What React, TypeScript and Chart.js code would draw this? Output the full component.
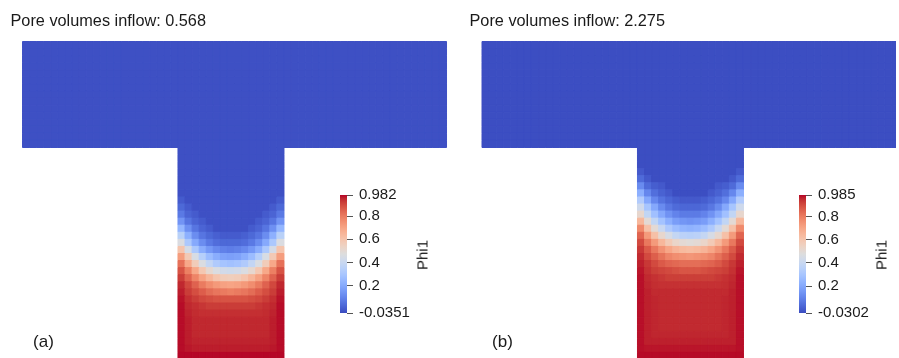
import React, { useEffect, useRef } from "react";
import { Chart, registerables } from "chart.js";
Chart.register(...registerables);

// ---------------- data ----------------
const TITLES = ["Pore volumes inflow: 0.568", "Pore volumes inflow: 2.275"];
const PANEL_LABELS = ["(a)", "(b)"];
const FIELD_NAME = "Phi1";
const RANGE_A = [-0.0351, 0.982];
const RANGE_B = [-0.0302, 0.985];
const CB_TICKS = [0.2, 0.4, 0.6, 0.8];

// T-shaped mesh: top channel of TOP_ROWS x TOP_COLS cells, stem of 15 columns starting at STEM_COL0
const TOP_ROWS = 15;
const TOP_COLS = 60;
const STEM_COL0 = 22;
const Z = -0.025; // resident fluid value (deep blue)
const TOP_PHI_A = Z;
const TOP_PHI_B = Z;

// Phi1 per stem cell (rows top->bottom, 15 columns)
const STEM_A = [
  [Z, Z, Z, Z, Z, Z, Z, Z, Z, Z, Z, Z, Z, Z, Z],
  [Z, Z, Z, Z, Z, Z, Z, Z, Z, Z, Z, Z, Z, Z, Z],
  [Z, Z, Z, Z, Z, Z, Z, Z, Z, Z, Z, Z, Z, Z, Z],
  [Z, Z, Z, Z, Z, Z, Z, Z, Z, Z, Z, Z, Z, Z, Z],
  [Z, Z, Z, Z, Z, Z, Z, Z, Z, Z, Z, Z, Z, Z, Z],
  [Z, Z, Z, Z, Z, Z, Z, Z, Z, Z, Z, Z, Z, Z, Z],
  [Z, Z, Z, Z, Z, Z, Z, Z, Z, Z, Z, Z, Z, Z, Z],
  [0.0, Z, Z, Z, Z, Z, Z, Z, Z, Z, Z, Z, Z, Z, 0.0],
  [0.03, 0.0, Z, Z, Z, Z, Z, Z, Z, Z, Z, Z, Z, 0.0, 0.03],
  [0.07, 0.02, 0.0, Z, Z, Z, Z, Z, Z, Z, Z, Z, 0.0, 0.02, 0.07],
  [0.14, 0.06, 0.02, 0.0, Z, Z, Z, Z, Z, Z, Z, 0.0, 0.02, 0.06, 0.14],
  [0.24, 0.13, 0.06, 0.02, 0.0, Z, Z, Z, Z, Z, 0.0, 0.02, 0.06, 0.13, 0.24],
  [0.35, 0.22, 0.12, 0.06, 0.03, 0.01, 0.0, 0.0, 0.0, 0.01, 0.03, 0.06, 0.12, 0.22, 0.35],
  [0.46, 0.31, 0.2, 0.12, 0.07, 0.04, 0.03, 0.03, 0.03, 0.04, 0.07, 0.12, 0.2, 0.31, 0.46],
  [0.6, 0.44, 0.31, 0.21, 0.15, 0.11, 0.09, 0.08, 0.09, 0.11, 0.15, 0.21, 0.31, 0.44, 0.6],
  [0.72, 0.58, 0.45, 0.34, 0.26, 0.21, 0.18, 0.17, 0.18, 0.21, 0.26, 0.34, 0.45, 0.58, 0.72],
  [0.82, 0.69, 0.57, 0.46, 0.38, 0.32, 0.29, 0.28, 0.29, 0.32, 0.38, 0.46, 0.57, 0.69, 0.82],
  [0.88, 0.79, 0.69, 0.59, 0.51, 0.46, 0.43, 0.42, 0.43, 0.46, 0.51, 0.59, 0.69, 0.79, 0.88],
  [0.92, 0.85, 0.78, 0.71, 0.65, 0.6, 0.57, 0.56, 0.57, 0.6, 0.65, 0.71, 0.78, 0.85, 0.92],
  [0.95, 0.9, 0.85, 0.8, 0.76, 0.73, 0.71, 0.7, 0.71, 0.73, 0.76, 0.8, 0.85, 0.9, 0.95],
  [0.96, 0.92, 0.89, 0.86, 0.83, 0.81, 0.8, 0.79, 0.8, 0.81, 0.83, 0.86, 0.89, 0.92, 0.96],
  [0.97, 0.94, 0.92, 0.9, 0.89, 0.88, 0.88, 0.88, 0.88, 0.88, 0.89, 0.9, 0.92, 0.94, 0.97],
  [0.975, 0.95, 0.94, 0.93, 0.92, 0.92, 0.92, 0.92, 0.92, 0.92, 0.92, 0.93, 0.94, 0.95, 0.975],
  [0.975, 0.955, 0.945, 0.94, 0.94, 0.94, 0.94, 0.94, 0.94, 0.94, 0.94, 0.94, 0.945, 0.955, 0.975],
  [0.975, 0.96, 0.95, 0.95, 0.95, 0.95, 0.95, 0.95, 0.95, 0.95, 0.95, 0.95, 0.95, 0.96, 0.975],
  [0.975, 0.96, 0.95, 0.95, 0.95, 0.95, 0.95, 0.95, 0.95, 0.95, 0.95, 0.95, 0.95, 0.96, 0.975],
  [0.975, 0.96, 0.95, 0.95, 0.95, 0.95, 0.95, 0.95, 0.95, 0.95, 0.95, 0.95, 0.95, 0.96, 0.975],
  [0.975, 0.96, 0.955, 0.955, 0.955, 0.955, 0.955, 0.955, 0.955, 0.955, 0.955, 0.955, 0.955, 0.96, 0.975],
  [0.975, 0.965, 0.96, 0.96, 0.96, 0.96, 0.96, 0.96, 0.96, 0.96, 0.96, 0.96, 0.96, 0.965, 0.975],
  [0.98, 0.98, 0.98, 0.98, 0.98, 0.98, 0.98, 0.98, 0.98, 0.98, 0.98, 0.98, 0.98, 0.98, 0.98],
];

const STEM_B = [
  [Z, Z, Z, Z, Z, Z, Z, Z, Z, Z, Z, Z, Z, Z, Z],
  [Z, Z, Z, Z, Z, Z, Z, Z, Z, Z, Z, Z, Z, Z, Z],
  [Z, Z, Z, Z, Z, Z, Z, Z, Z, Z, Z, Z, Z, Z, Z],
  [0.0, Z, Z, Z, Z, Z, Z, Z, Z, Z, Z, Z, Z, Z, 0.0],
  [0.04, 0.0, Z, Z, Z, Z, Z, Z, Z, Z, Z, Z, Z, 0.0, 0.04],
  [0.12, 0.04, 0.01, 0.0, Z, Z, Z, Z, Z, Z, Z, 0.0, 0.01, 0.04, 0.12],
  [0.22, 0.11, 0.05, 0.02, 0.0, Z, Z, Z, Z, Z, 0.0, 0.02, 0.05, 0.11, 0.22],
  [0.33, 0.2, 0.11, 0.06, 0.03, 0.01, 0.0, 0.0, 0.0, 0.01, 0.03, 0.06, 0.11, 0.2, 0.33],
  [0.42, 0.3, 0.2, 0.12, 0.07, 0.04, 0.03, 0.03, 0.03, 0.04, 0.07, 0.12, 0.2, 0.3, 0.42],
  [0.52, 0.38, 0.28, 0.2, 0.14, 0.1, 0.08, 0.08, 0.08, 0.1, 0.14, 0.2, 0.28, 0.38, 0.52],
  [0.65, 0.5, 0.38, 0.29, 0.22, 0.17, 0.15, 0.14, 0.15, 0.17, 0.22, 0.29, 0.38, 0.5, 0.65],
  [0.77, 0.62, 0.5, 0.4, 0.32, 0.27, 0.24, 0.23, 0.24, 0.27, 0.32, 0.4, 0.5, 0.62, 0.77],
  [0.85, 0.73, 0.62, 0.52, 0.45, 0.39, 0.36, 0.35, 0.36, 0.39, 0.45, 0.52, 0.62, 0.73, 0.85],
  [0.9, 0.81, 0.73, 0.65, 0.58, 0.53, 0.5, 0.49, 0.5, 0.53, 0.58, 0.65, 0.73, 0.81, 0.9],
  [0.93, 0.87, 0.81, 0.75, 0.7, 0.66, 0.64, 0.63, 0.64, 0.66, 0.7, 0.75, 0.81, 0.87, 0.93],
  [0.95, 0.9, 0.86, 0.82, 0.78, 0.76, 0.75, 0.74, 0.75, 0.76, 0.78, 0.82, 0.86, 0.9, 0.95],
  [0.96, 0.93, 0.9, 0.87, 0.85, 0.84, 0.83, 0.83, 0.83, 0.84, 0.85, 0.87, 0.9, 0.93, 0.96],
  [0.97, 0.94, 0.92, 0.91, 0.9, 0.89, 0.88, 0.88, 0.88, 0.89, 0.9, 0.91, 0.92, 0.94, 0.97],
  [0.975, 0.95, 0.94, 0.93, 0.92, 0.92, 0.92, 0.92, 0.92, 0.92, 0.92, 0.93, 0.94, 0.95, 0.975],
  [0.975, 0.955, 0.945, 0.94, 0.94, 0.94, 0.94, 0.94, 0.94, 0.94, 0.94, 0.94, 0.945, 0.955, 0.975],
  [0.975, 0.96, 0.95, 0.95, 0.95, 0.95, 0.95, 0.95, 0.95, 0.95, 0.95, 0.95, 0.95, 0.96, 0.975],
  [0.975, 0.96, 0.955, 0.95, 0.95, 0.95, 0.95, 0.95, 0.95, 0.95, 0.95, 0.95, 0.955, 0.96, 0.975],
  [0.975, 0.96, 0.955, 0.95, 0.95, 0.95, 0.95, 0.95, 0.95, 0.95, 0.95, 0.95, 0.955, 0.96, 0.975],
  [0.975, 0.96, 0.955, 0.95, 0.95, 0.95, 0.95, 0.95, 0.95, 0.95, 0.95, 0.95, 0.955, 0.96, 0.975],
  [0.975, 0.96, 0.955, 0.95, 0.95, 0.95, 0.95, 0.95, 0.95, 0.95, 0.95, 0.95, 0.955, 0.96, 0.975],
  [0.975, 0.96, 0.955, 0.95, 0.95, 0.95, 0.95, 0.95, 0.95, 0.95, 0.95, 0.95, 0.955, 0.96, 0.975],
  [0.975, 0.96, 0.955, 0.955, 0.955, 0.955, 0.955, 0.955, 0.955, 0.955, 0.955, 0.955, 0.955, 0.96, 0.975],
  [0.975, 0.96, 0.96, 0.96, 0.96, 0.96, 0.96, 0.96, 0.96, 0.96, 0.96, 0.96, 0.96, 0.96, 0.975],
  [0.975, 0.97, 0.97, 0.97, 0.97, 0.97, 0.97, 0.97, 0.97, 0.97, 0.97, 0.97, 0.97, 0.97, 0.975],
  [0.98, 0.98, 0.98, 0.98, 0.98, 0.98, 0.98, 0.98, 0.98, 0.98, 0.98, 0.98, 0.98, 0.98, 0.98],
];

// ---------------- style ----------------
// ParaView "Cool to Warm" (Moreland) colormap, 33 evenly spaced samples
const COOLWARM: number[][] = [
  [59, 76, 192], [68, 90, 204], [77, 104, 215], [87, 117, 225], [98, 130, 234],
  [108, 142, 241], [119, 154, 247], [130, 165, 251], [141, 176, 254], [152, 185, 255],
  [163, 194, 255], [174, 201, 253], [184, 208, 249], [194, 213, 244], [204, 217, 238],
  [213, 219, 230], [221, 221, 221], [229, 216, 209], [236, 211, 197], [241, 204, 185],
  [245, 196, 173], [247, 187, 160], [247, 177, 148], [247, 166, 135], [244, 154, 123],
  [241, 141, 111], [236, 127, 99], [229, 112, 88], [222, 96, 77], [213, 80, 66],
  [203, 62, 56], [192, 40, 47], [180, 4, 38],
];
const FONT = '"Liberation Sans", Arial, sans-serif';
const TEXT_COLOR = "#1a1a1a";
const W_TOTAL = 899;
const H = 358;
const CELL = 7.067;
const ORIGIN_Y = 41.5;
const CB_LEFT = 340;
const CB_TOP = 195;
const CB_BOTTOM = 313;
const CB_WIDTH = 7;
const CELL_BORDER = 1;

function cmap(t: number): string {
  const n = COOLWARM.length - 1;
  const tt = Math.min(1, Math.max(0, t)) * n;
  const i = Math.min(n - 1, Math.floor(tt));
  const f = tt - i;
  const a = COOLWARM[i];
  const b = COOLWARM[i + 1];
  const c = a.map((v, k) => Math.round(v + (b[k] - v) * f));
  return `rgb(${c[0]},${c[1]},${c[2]})`;
}

type Cell = { x: number; y: number; v: number };

function buildCells(topPhi: number, stem: number[][]): Cell[] {
  const cells: Cell[] = [];
  for (let r = 0; r < TOP_ROWS; r++) {
    for (let c = 0; c < TOP_COLS; c++) cells.push({ x: c + 0.5, y: r + 0.5, v: topPhi });
  }
  stem.forEach((row, i) =>
    row.forEach((v, j) => cells.push({ x: STEM_COL0 + j + 0.5, y: TOP_ROWS + i + 0.5, v }))
  );
  return cells;
}

type PanelProps = {
  offset: number;
  width: number;
  originX: number;
  title: string;
  label: string;
  range: number[];
  topPhi: number;
  stem: number[][];
};

function Panel({ offset, width, originX, title, label, range, topPhi, stem }: PanelProps) {
  const fieldRef = useRef<HTMLCanvasElement>(null);
  const cbRef = useRef<HTMLCanvasElement>(null);
  const [lo, hi] = range;
  const cbCanvasW = 110;
  const cbCanvasTop = 185;
  const cbCanvasH = 140;

  useEffect(() => {
    const colorOf = (v: number) => cmap((v - lo) / (hi - lo));
    const cells = buildCells(topPhi, stem);
    const field = new Chart(fieldRef.current!, {
      type: "scatter",
      data: {
        datasets: [
          {
            data: cells as any,
            pointStyle: "rect",
            pointRadius: (ctx: any) => {
              const xs = ctx.chart.scales.x;
              const side = Math.abs(xs.getPixelForValue(1) - xs.getPixelForValue(0));
              return side * Math.SQRT1_2;
            },
            backgroundColor: (ctx: any) => (ctx.raw ? colorOf(ctx.raw.v) : "#000"),
            borderColor: (ctx: any) => (ctx.raw ? colorOf(ctx.raw.v) : "#000"),
            borderWidth: CELL_BORDER,
          } as any,
        ],
      },
      options: {
        animation: false,
        responsive: false,
        maintainAspectRatio: false,
        devicePixelRatio: 1,
        events: [],
        layout: { padding: 0 },
        plugins: { legend: { display: false }, tooltip: { enabled: false } },
        scales: {
          x: { type: "linear", display: false, min: -originX / CELL, max: (width - originX) / CELL },
          y: { type: "linear", display: false, reverse: true, min: -ORIGIN_Y / CELL, max: (H - ORIGIN_Y) / CELL },
        },
      },
    });

    const padTop = CB_TOP - cbCanvasTop;
    const padBottom = cbCanvasH - (CB_BOTTOM - cbCanvasTop);
    const cb = new Chart(cbRef.current!, {
      type: "bar",
      data: {
        labels: [FIELD_NAME],
        datasets: [
          {
            data: [[lo, hi]] as any,
            barPercentage: 1,
            categoryPercentage: 1,
            borderWidth: 0,
            backgroundColor: (ctx: any) => {
              const chart = ctx.chart;
              const ys = chart.scales.y;
              if (!chart.chartArea || !ys) return cmap(0.5);
              const g = chart.ctx.createLinearGradient(0, ys.getPixelForValue(lo), 0, ys.getPixelForValue(hi));
              COOLWARM.forEach((_, i) => g.addColorStop(i / (COOLWARM.length - 1), cmap(i / (COOLWARM.length - 1))));
              return g;
            },
          } as any,
        ],
      },
      options: {
        animation: false,
        responsive: false,
        maintainAspectRatio: false,
        devicePixelRatio: 1,
        events: [],
        layout: { padding: { top: padTop, bottom: padBottom, left: 0, right: 0 } },
        plugins: { legend: { display: false }, tooltip: { enabled: false } },
        scales: {
          x: { display: false },
          y: {
            type: "linear",
            position: "right",
            min: lo,
            max: hi,
            border: { display: false },
            grid: { drawOnChartArea: false, drawTicks: true, tickLength: 6, tickColor: "#555", tickWidth: 1 },
            ticks: {
              padding: 6,
              color: TEXT_COLOR,
              font: { family: FONT, size: 15 },
              autoSkip: false,
              callback: (v: any) => String(v),
            },
            afterBuildTicks: (s: any) => {
              s.ticks = [lo, ...CB_TICKS, hi].map((value) => ({ value }));
            },
            afterFit: (s: any) => {
              s.width = cbCanvasW - CB_WIDTH;
              s.paddingTop = 0;
              s.paddingBottom = 0;
            },
          } as any,
        },
      },
    });
    return () => {
      field.destroy();
      cb.destroy();
    };
  }, []);

  return (
    <>
      <canvas
        ref={fieldRef}
        width={width}
        height={H}
        style={{ position: "absolute", left: offset, top: 0, width, height: H }}
      />
      <canvas
        ref={cbRef}
        width={cbCanvasW}
        height={cbCanvasH}
        style={{ position: "absolute", left: offset + CB_LEFT, top: cbCanvasTop, width: cbCanvasW, height: cbCanvasH }}
      />
      <div
        style={{
          position: "absolute",
          left: offset + 10.5,
          top: 12,
          font: `16.3px ${FONT}`,
          lineHeight: "16px",
          color: TEXT_COLOR,
          whiteSpace: "nowrap",
        }}
      >
        {title}
      </div>
      <div
        style={{
          position: "absolute",
          left: offset + 421.5,
          top: 255,
          font: `15px ${FONT}`,
          lineHeight: "15px",
          color: TEXT_COLOR,
          whiteSpace: "nowrap",
          transform: "translate(-50%, -50%) rotate(-90deg)",
        }}
      >
        {FIELD_NAME}
      </div>
      <div
        style={{
          position: "absolute",
          left: offset + 43.5,
          top: 340.5,
          font: `17px ${FONT}`,
          lineHeight: "17px",
          color: TEXT_COLOR,
          whiteSpace: "nowrap",
          transform: "translate(-50%, -50%)",
        }}
      >
        {label}
      </div>
    </>
  );
}

export default function App() {
  return (
    <div
      style={{
        position: "absolute",
        left: 0,
        top: 0,
        width: W_TOTAL,
        height: H,
        background: "#fff",
        overflow: "hidden",
      }}
    >
      <Panel offset={0} width={460} originX={22.5} title={TITLES[0]} label={PANEL_LABELS[0]} range={RANGE_A} topPhi={TOP_PHI_A} stem={STEM_A} />
      <Panel offset={459} width={437} originX={23} title={TITLES[1]} label={PANEL_LABELS[1]} range={RANGE_B} topPhi={TOP_PHI_B} stem={STEM_B} />
    </div>
  );
}
